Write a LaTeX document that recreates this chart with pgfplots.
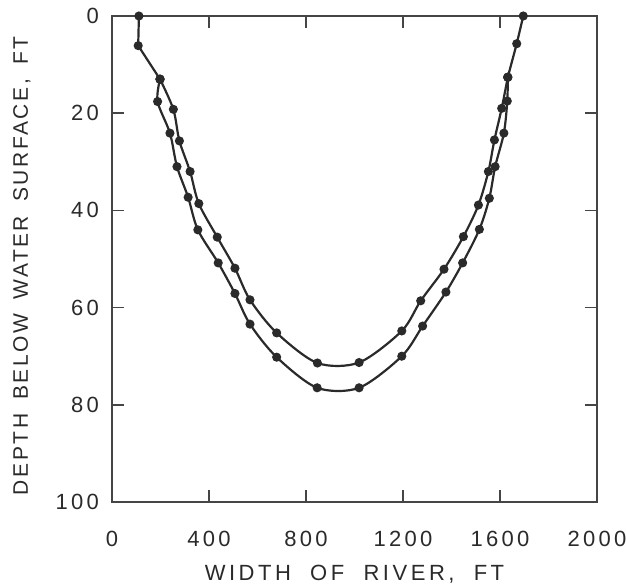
\documentclass[border=0pt]{standalone}
\usepackage{pgfplots}
\pgfplotsset{compat=1.18}
\usepackage{pgfplotstable}
\usepackage{fontspec}
\setmainfont{Liberation Sans}
\newfontfamily\lbl[LetterSpace=16,WordSpace=2]{Liberation Sans}
\newfontfamily\lbly[LetterSpace=12,WordSpace=1.7]{Liberation Sans}
\newfontfamily\tck[LetterSpace=15]{Liberation Sans}
\definecolor{ink}{HTML}{2A2A2A}
\definecolor{frame}{HTML}{454545}

\pgfplotstableread{
x y
111 0
108 6.1
198 13.0
}\topleft
\pgfplotstableread{
x y
1632 12.6
1669 5.7
1696 0
}\topright
\pgfplotstableread{
x y
198 13.0
188 17.6
239 24.1
268 31.0
314 37.3
354 44.0
438 50.8
507 57.1
569 63.4
679 70.2
846 76.5
1019 76.5
1195 70.0
1281 63.8
1377 56.8
1446 50.8
1515 43.9
1556 37.5
1580 31.0
1616 24.1
1630 17.5
1632 12.6
}\outer
\pgfplotstableread{
x y
198 13.0
253 19.2
278 25.7
322 32.0
358 38.6
434 45.5
507 51.9
569 58.4
679 65.2
847 71.4
1019 71.3
1195 64.8
1273 58.6
1369 52.1
1449 45.4
1511 38.9
1552 32.0
1577 25.5
1607 19.0
1632 12.6
}\inner

\begin{document}
\begin{tikzpicture}
\useasboundingbox (-56pt,-43pt) rectangle (257pt,251pt);
\begin{axis}[
  at={(0,0)}, anchor=south west,
  width=242.5pt, height=243pt, scale only axis,
  xmin=0, xmax=2000, ymin=0, ymax=100, y dir=reverse,
  xtick={0,400,...,2000}, ytick={0,20,...,100},
  tick align=inside, major tick length=6pt,
  axis line style={frame, line width=1pt},
  tick style={frame, line width=0.8pt},
  ticklabel style={font=\tck\fontsize{11}{13}\selectfont, text=ink},
  /pgf/number format/assume math mode=true,
  /pgf/number format/1000 sep={},
  xticklabel style={yshift=-11pt},
  yticklabel style={xshift=-3pt},
  xlabel={WIDTH OF RIVER, FT},
  ylabel={DEPTH BELOW WATER SURFACE, FT},
  xlabel style={font=\lbl\fontsize{11}{13}\selectfont, text=ink, at={(axis description cs:0.5,-0.148)}, anchor=center},
  ylabel style={font=\lbly\fontsize{10.5}{13}\selectfont, text=ink, at={(axis description cs:-0.186,0.486)}, anchor=center},
]
\addplot[ink, line width=1.1pt, mark=*, mark size=1.7pt, mark options={fill=ink}] table {\topleft};
\addplot[ink, line width=1.1pt, mark=*, mark size=1.7pt, mark options={fill=ink}] table {\topright};
\addplot[ink, line width=1.1pt, smooth, mark=*, mark size=1.7pt, mark options={fill=ink}] table {\outer};
\addplot[ink, line width=1.1pt, smooth, mark=*, mark size=1.7pt, mark options={fill=ink}] table {\inner};
\end{axis}
\end{tikzpicture}
\end{document}
